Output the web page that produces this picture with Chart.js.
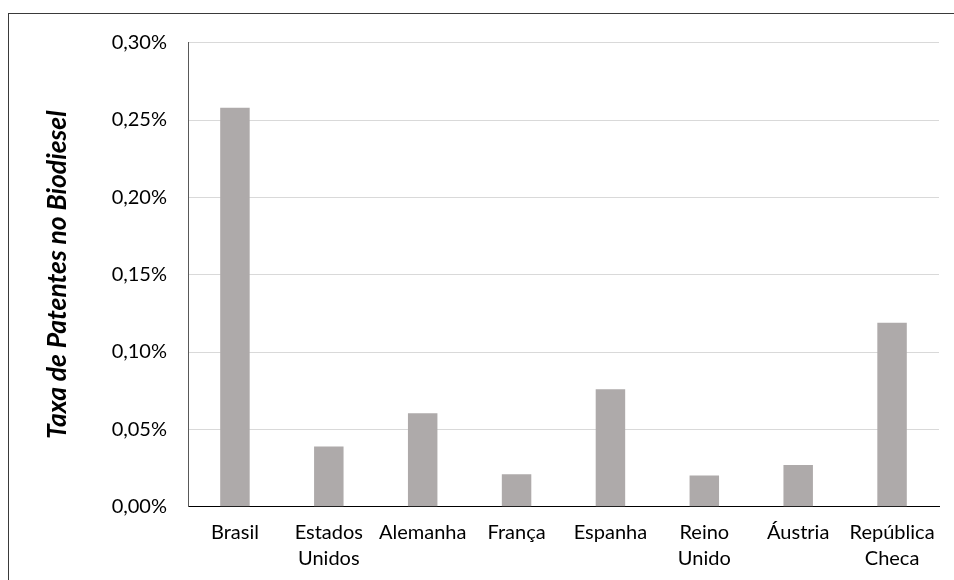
<!DOCTYPE html>
<html>
<head>
<meta charset="utf-8">
<script src="https://cdn.jsdelivr.net/npm/chart.js@4/dist/chart.umd.min.js"></script>
<style>
  html, body { margin: 0; padding: 0; background: #fff; overflow: hidden; }
  #wrap { position: relative; width: 954px; height: 580px; }
  #frame { position: absolute; left: 8px; top: 13px; width: 1200px; height: 900px; border: 1px solid #3a3a3a; box-sizing: border-box; pointer-events: none; }
  canvas { position: absolute; left: 0; top: 0; }
</style>
</head>
<body>
<div id="wrap">
  <canvas id="c" width="954" height="580"></canvas>
  <div id="frame"></div>
</div>
<script>
const categories = ['Brasil', ['Estados', 'Unidos'], 'Alemanha', 'França', 'Espanha', ['Reino', 'Unido'], 'Áustria', ['República', 'Checa']];
const taxaPatentes = [0.258, 0.039, 0.0605, 0.021, 0.076, 0.0202, 0.027, 0.119];
const yTicks = [0, 0.05, 0.10, 0.15, 0.20, 0.25, 0.30];
const yTitle = 'Taxa de Patentes no Biodiesel';

const FONT = 'Lato, "Open Sans", sans-serif';

new Chart(document.getElementById('c'), {
  type: 'bar',
  data: {
    labels: categories,
    datasets: [{
      data: taxaPatentes,
      backgroundColor: '#AEAAAA',
      borderWidth: 0,
      barPercentage: 0.314,
      categoryPercentage: 1.0
    }]
  },
  options: {
    responsive: false,
    animation: false,
    devicePixelRatio: 1,
    layout: { autoPadding: false, padding: { left: 0, right: 15, top: 42.7, bottom: 0 } },
    plugins: { legend: { display: false }, tooltip: { enabled: false } },
    scales: {
      x: {
        grid: { display: false, drawTicks: false },
        border: { display: true, color: '#000', width: 1 },
        ticks: {
          color: '#000',
          font: { family: FONT, size: 20, lineHeight: 1.28 },
          padding: 13,
          maxRotation: 0,
          autoSkip: false
        },
        afterFit: (s) => { s.height = 580 - 506.7; }
      },
      y: {
        min: 0,
        max: 0.30,
        afterBuildTicks: (s) => { s.ticks = yTicks.map(v => ({ value: v })); },
        grid: { color: '#d9d9d9', lineWidth: 1, drawTicks: false },
        border: { display: true, color: '#595959', width: 1 },
        ticks: {
          color: '#000',
          font: { family: FONT, size: 20 },
          padding: 21,
          callback: (v) => v.toFixed(2).replace('.', ',') + '%'
        },
        title: {
          display: true,
          text: yTitle,
          color: '#000',
          font: { family: FONT, size: 26.5, weight: 'bold', style: 'italic' },
          padding: { top: 42, bottom: 0 }
        },
        afterFit: (s) => { s.width = 188; }
      }
    }
  }
});
</script>
</body>
</html>
